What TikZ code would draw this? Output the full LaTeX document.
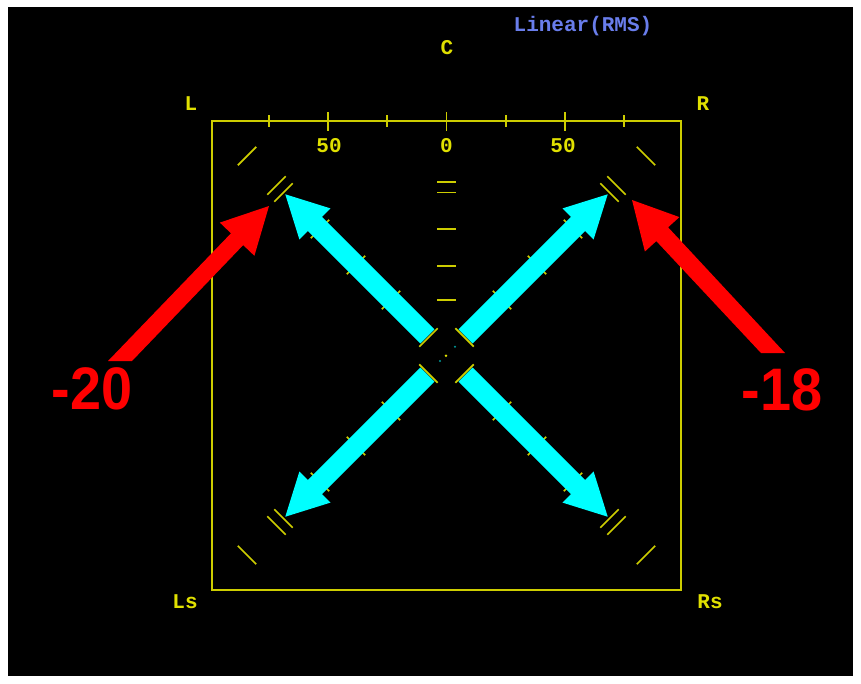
\documentclass[tikz,border=0pt]{standalone}
\usepackage{fontspec}
\newfontfamily\scopefont{Liberation Mono}[BoldFont={Liberation Mono Bold}]
\newfontfamily\bigfont{Liberation Sans}[BoldFont={Liberation Sans Bold}]
\definecolor{scopeyellow}{RGB}{224,224,0}
\definecolor{lineyellow}{RGB}{205,205,0}
\definecolor{rmsblue}{RGB}{105,125,235}
\definecolor{arrowcyan}{RGB}{0,255,255}
\definecolor{callred}{RGB}{255,0,0}
\tikzset{
  lbl/.style={text=scopeyellow, font=\scopefont\bfseries\fontsize{21}{21}\selectfont, inner sep=0pt},
  bigred/.style={text=callred, font=\bigfont\bfseries\fontsize{60}{60}\selectfont, inner sep=0pt, xscale=0.93},
  frameline/.style={draw=lineyellow, line width=2pt},
  tickline/.style={draw=lineyellow, line width=1.7pt},
  markline/.style={draw=lineyellow, line width=1.7pt},
  cyanarrow/.style={fill=arrowcyan, draw=none},
  redarrow/.style={fill=callred, draw=none},
  armNW/.style={x={(-0.7071pt,0.7071pt)}, y={(0.7071pt,0.7071pt)}},
  armNE/.style={x={(0.7071pt,0.7071pt)}, y={(-0.7071pt,0.7071pt)}},
  armSW/.style={x={(-0.7071pt,-0.7071pt)}, y={(0.7071pt,-0.7071pt)}},
  armSE/.style={x={(0.7071pt,-0.7071pt)}, y={(0.7071pt,0.7071pt)}},
}
\newcommand{\armdetail}{%
  \foreach \d in {78.5,128,178.9} {\path[markline] (\d,-13) -- (\d,13);}
  \path[cyanarrow] (27,-10) -- (186,-10) -- (186,-22) -- (228,0) -- (186,22) -- (186,10) -- (27,10) -- cycle;
  \path[markline] (25.5,-13) -- (25.5,13);
  \path[markline] (230.5,-13) -- (230.5,13);
  \path[markline] (240.4,-13) -- (240.4,13);
  \path[markline] (282.1,-13) -- (282.1,13);
}
\begin{document}
\begin{tikzpicture}[x=1pt,y=-1pt]
\useasboundingbox (0,0) rectangle (861,683);
\fill[white] (0,0) rectangle (861,683);
\fill[black] (8,7) rectangle (853,676);

\node[draw=none, inner sep=0pt, minimum size=0pt] (ctr) at (446.5,355.5) {};
\path[frameline] (212,121) rectangle (681,590);

\foreach \x in {328.3,446.5,564.7} {\path[tickline] (\x,112) -- (\x,131);}
\foreach \x in {269.3,387.3,505.7,623.7} {\path[tickline] (\x,115) -- (\x,127);}

\foreach \y in {182,192.5,229,265.7,300} {\path[tickline] (437,\y) -- (456,\y);}

\begin{scope}[shift={(446.5,355.5)}]
  \begin{scope}[armNW]\armdetail\end{scope}
  \begin{scope}[armNE]\armdetail\end{scope}
  \begin{scope}[armSW]\armdetail\end{scope}
  \begin{scope}[armSE]\armdetail\end{scope}
\end{scope}
\fill[scopeyellow] (446,355.7) circle (1.3);
\fill[arrowcyan!60!black] (455,346.7) circle (1.2);
\fill[arrowcyan!60!black] (440,361) circle (1.2);

\node[lbl, text=rmsblue] (rms) at (583,26) {Linear(RMS)};
\node[lbl] (lc) at (447,48) {C};
\node[lbl] (ll) at (191,104) {L};
\node[lbl] (lr) at (703,104) {R};
\node[lbl] (t50a) at (329,146) {50};
\node[lbl] (t0) at (446.5,146) {0};
\node[lbl] (t50b) at (563,146) {50};
\node[lbl] (lls) at (185,602) {Ls};
\node[lbl] (lrs) at (710,602) {Rs};

\coordinate (lt) at (269,206);
\coordinate (rt) at (632,200);
\path[redarrow] (108,361) -- (132,361) -- (243.2,245.1) -- (254.4,255.8) -- (lt) -- (219.8,222.6) -- (231.0,233.3) -- cycle;
\path[redarrow] (785,353) -- (761,353) -- (656.3,241.1) -- (644.9,251.5) -- (rt) -- (679.4,217.1) -- (668.1,227.3) -- cycle;
\node[bigred] (m20) at (92,389) {-20};
\node[bigred] (m18) at (782,390) {-18};
\end{tikzpicture}
\end{document}
